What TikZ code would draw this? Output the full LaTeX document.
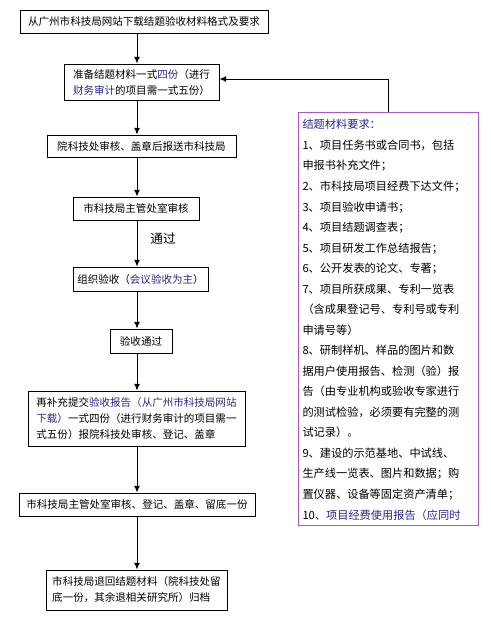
\documentclass[tikz,border=0pt]{standalone}
\usepackage{fontspec}
\setmainfont{Noto Sans CJK SC}
\usetikzlibrary{arrows.meta}
\definecolor{reqpurple}{RGB}{170,90,190}
\definecolor{linkblue}{RGB}{40,40,140}
\tikzset{every picture/.style={line width=0.75pt}}
\tikzset{
  stepbox/.style={draw, inner sep=0pt, align=left, font=\fontsize{7.9}{12}\selectfont},
  flow/.style={-{Latex[length=5pt,width=4.5pt]}},
}

\begin{document}
\begin{tikzpicture}[x=0.75pt,y=0.75pt,yscale=-1,xscale=1]
	\useasboundingbox (0,0) rectangle (491,622); %set diagram size 491x622
	\coordinate (axis) at (137,0);
	%Shape: Rectangle [id:b1]
	\node [stepbox, minimum width=186pt, minimum height=17.25pt] (b1) at (144,21.5) {从广州市科技局网站下载结题验收材料格式及要求};
	%Shape: Rectangle [id:b2]
	\node [stepbox, minimum width=116.25pt, minimum height=27pt] (b2) at (141.5,82) {准备结题材料一式\textcolor{linkblue}{四份}（进行\\\textcolor{linkblue}{财务审计}的项目需一式五份）};
	%Shape: Rectangle [id:b3]
	\node [stepbox, minimum width=141.75pt, minimum height=16.5pt] (b3) at (141.5,146) {院科技处审核、盖章后报送市科技局};
	%Shape: Rectangle [id:b4]
	\node [stepbox, minimum width=94.5pt, minimum height=17.25pt] (b4) at (136,208.5) {市科技局主管处室审核};
	%Shape: Rectangle [id:b5]
	\node [stepbox, minimum width=101.25pt, minimum height=18pt] (b5) at (140.5,279) {组织验收（\textcolor{linkblue}{会议验收为主}）};
	%Shape: Rectangle [id:b6]
	\node [stepbox, minimum width=46.5pt, minimum height=18pt] (b6) at (141,341) {验收通过};
	%Shape: Rectangle [id:b7]
	\node [stepbox, minimum width=162.75pt, minimum height=41.25pt] (b7) at (136.5,418.5) {再补充提交\textcolor{linkblue}{验收报告（从广州市科技局网站}\\\textcolor{linkblue}{下载）}一式四份（进行财务审计的项目需一\\式五份）报院科技处审核、登记、盖章};
	%Shape: Rectangle [id:b8]
	\node [stepbox, minimum width=177pt, minimum height=17.25pt] (b8) at (137,504.5) {市科技局主管处室审核、登记、盖章、留底一份};
	%Shape: Rectangle [id:b9]
	\node [stepbox, minimum width=135.75pt, minimum height=30pt] (b9) at (136.5,590) {市科技局退回结题材料（院科技处留\\底一份，其余退相关研究所）归档};
	%Shape: Rectangle [id:req]
	\node [draw=reqpurple, inner sep=0pt, minimum width=135pt, minimum height=309.75pt] (req) at (388,318.5) {};
	% Text Node
	\node [anchor=north west, inner sep=0pt, align=left, font=\fontsize{8.4}{15.4}\selectfont] (reqtext) at (302,119) {\textcolor{linkblue}{结题材料要求：}\\
		1、项目任务书或合同书，包括\\
		申报书补充文件；\\
		2、市科技局项目经费下达文件；\\
		3、项目验收申请书；\\
		4、项目结题调查表；\\
		5、项目研发工作总结报告；\\
		6、公开发表的论文、专著；\\
		7、项目所获成果、专利一览表\\
		（含成果登记号、专利号或专利\\
		申请号等）\\
		8、研制样机、样品的图片和数\\
		据用户使用报告、检测（验）报\\
		告（由专业机构或验收专家进行\\
		的测试检验，必须要有完整的测\\
		试记录）。\\
		9、建设的示范基地、中试线、\\
		生产线一览表、图片和数据；购\\
		置仪器、设备等固定资产清单；\\
		10、\textcolor{linkblue}{项目经费使用报告（应同时}};
	% Text Node
	\node [inner sep=0pt, font=\fontsize{9.5}{12}\selectfont] (pass) at (163,239) {通过};
	
	%Straight Lines
	\draw [flow] (b1.south -| axis) -- (b2.north -| axis);
	\draw [flow] (b2.south -| axis) -- (b3.north -| axis);
	\draw [flow] (b3.south -| axis) -- (b4.north -| axis);
	\draw [flow] (b4.south -| axis) -- (b5.north -| axis);
	\draw [flow] (b5.south -| axis) -- (b6.north -| axis);
	\draw [flow] (b6.south -| axis) -- (b7.north -| axis);
	\draw [flow] (b7.south -| axis) -- (b8.north -| axis);
	\draw [flow] (b8.south -| axis) -- (b9.north -| axis);
	\draw [flow] (req.north) |- ([yshift=-2.25pt]b2.east);
\end{tikzpicture}
\end{document}
